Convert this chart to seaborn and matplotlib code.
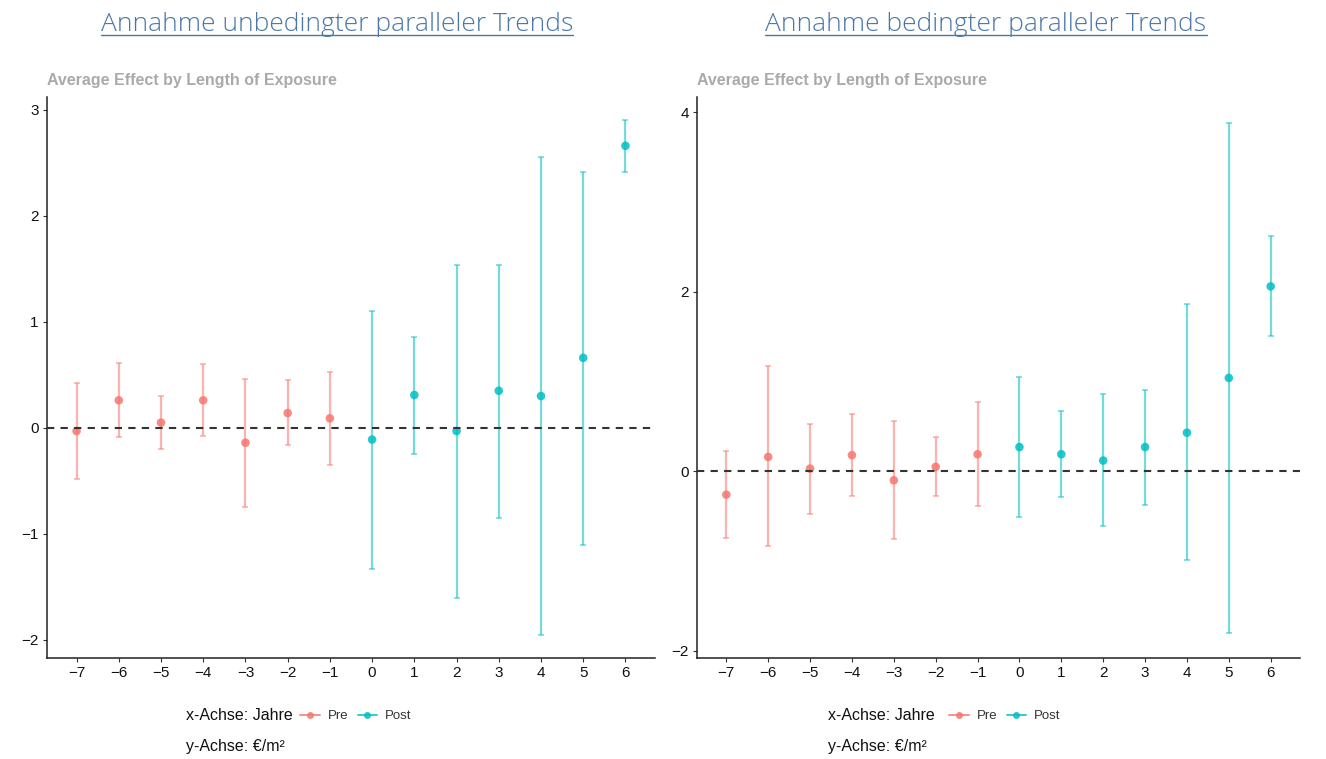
import matplotlib
matplotlib.use("Agg")
import matplotlib.pyplot as plt
from matplotlib.lines import Line2D
import seaborn as sns
import pandas as pd
import numpy as np

# Daten
years = [-7, -6, -5, -4, -3, -2, -1, 0, 1, 2, 3, 4, 5, 6]
phase = ["Pre"] * 7 + ["Post"] * 7

# unbedingte parallele Trends
unc_est = [-0.03, 0.26, 0.05, 0.26, -0.14, 0.14, 0.09, -0.11, 0.31, -0.03, 0.35, 0.30, 0.66, 2.66]
unc_lo = [-0.48, -0.09, -0.20, -0.08, -0.75, -0.16, -0.35, -1.33, -0.25, -1.60, -0.85, -1.95, -1.10, 2.41]
unc_hi = [0.42, 0.61, 0.30, 0.60, 0.46, 0.45, 0.53, 1.10, 0.86, 1.54, 1.54, 2.55, 2.41, 2.90]

# bedingte parallele Trends
con_est = [-0.26, 0.16, 0.03, 0.18, -0.10, 0.05, 0.19, 0.27, 0.19, 0.12, 0.27, 0.43, 1.04, 2.06]
con_lo = [-0.74, -0.83, -0.48, -0.28, -0.75, -0.28, -0.39, -0.51, -0.29, -0.61, -0.38, -0.99, -1.80, 1.51]
con_hi = [0.23, 1.17, 0.53, 0.64, 0.56, 0.38, 0.77, 1.05, 0.67, 0.86, 0.91, 1.86, 3.88, 2.62]

titles = ["Annahme unbedingter paralleler Trends", "Annahme bedingter paralleler Trends"]
subtitle = "Average Effect by Length of Exposure"
PALETTE = {"Pre": "#F8766D", "Post": "#00BFC4"}

sns.set_theme(style="ticks")
plt.rcParams['font.family'] = ['Liberation Sans', 'DejaVu Sans']

W, H = 1326, 759
fig = plt.figure(figsize=(W / 100, H / 100), dpi=100)


def px(x0, y0, x1, y1):
    # Pixelbox -> figure coords
    return [x0 / W, 1 - y1 / H, (x1 - x0) / W, (y1 - y0) / H]


def draw_panel(ax, est, lo, hi, ylim, yticks):
    df = pd.DataFrame({"year": years, "est": est, "lo": lo, "hi": hi, "phase": phase})
    for ph, sub in df.groupby("phase"):
        ax.errorbar(sub["year"], sub["est"],
                    yerr=[sub["est"] - sub["lo"], sub["hi"] - sub["est"]],
                    fmt="none", ecolor=PALETTE[ph], alpha=0.55,
                    elinewidth=1.6, capsize=2.2, capthick=1.2, zorder=2)
    sns.scatterplot(data=df, x="year", y="est", hue="phase", palette=PALETTE,
                    s=38, linewidth=0, alpha=0.85, legend=False, ax=ax, zorder=3)
    ax.axhline(0, color="#333333", lw=1.5, ls=(0, (3.5, 3)), zorder=4)
    ax.set_xlim(-7.7, 6.7)
    ax.set_ylim(*ylim)
    ax.set_xticks(years)
    ax.set_xticklabels([str(y).replace("-", "\u2212") for y in years])
    ax.set_yticks(yticks)
    ax.set_yticklabels([str(y).replace("-", "\u2212") for y in yticks])
    ax.set_xlabel("")
    ax.set_ylabel("")
    sns.despine(ax=ax)
    for s in ["left", "bottom"]:
        ax.spines[s].set_color("#222222")
        ax.spines[s].set_linewidth(1.1)
    ax.tick_params(axis="both", length=3, width=0.8, color="#333333",
                   labelsize=11, labelcolor="#111111", pad=3)


ax1 = fig.add_axes(px(47, 97, 655, 658))
draw_panel(ax1, unc_est, unc_lo, unc_hi, (-2.17, 3.12), [-2, -1, 0, 1, 2, 3])
ax2 = fig.add_axes(px(697, 97, 1300, 658))
draw_panel(ax2, con_est, con_lo, con_hi, (-2.08, 4.17), [-2, 0, 2, 4])

# Titel mit Unterstreichung
title_texts = []
for cx, t in zip([337, 986], titles):
    tt = fig.text(cx / W, 1 - 31 / H, t, ha="center", va="baseline",
                  fontsize=19, color="#4a77a8",
                  family=["Open Sans", "Liberation Sans", "DejaVu Sans"],
                  fontweight="light")
    title_texts.append(tt)

for ax in [ax1, ax2]:
    x0 = ax.get_position().x0
    fig.text(x0, 1 - 80 / H, subtitle, ha="left", va="center",
             fontsize=11.5, fontweight="bold", color="#aaaaaa")

# Achsenhinweise + Legende
handles = [Line2D([], [], color=PALETTE[p], marker="o", markersize=4, lw=1.4, alpha=0.8)
           for p in ["Pre", "Post"]]
for tx, lx in [(186, 300), (828, 949)]:
    fig.text(tx / W, 1 - 716 / H, "x-Achse: Jahre", ha="left", va="center",
             fontsize=11.5, color="#111111")
    fig.text(tx / W, 1 - 746 / H, "y-Achse: \u20ac/m\u00b2", ha="left", va="center",
             fontsize=11.5, color="#111111")
    fig.legend(handles, ["Pre", "Post"], loc="center left",
               bbox_to_anchor=(lx / W, 1 - 716 / H), ncol=2, frameon=False,
               fontsize=9.5, handlelength=1.5, handletextpad=0.6,
               columnspacing=0.7, borderpad=0, borderaxespad=0,
               labelcolor="#333333")

fig.canvas.draw()
r = fig.canvas.get_renderer()
for tt in title_texts:
    bb = tt.get_window_extent(r).transformed(fig.transFigure.inverted())
    yline = 1 - 35 / H
    fig.add_artist(Line2D([bb.x0, bb.x1], [yline, yline], color="#4a77a8", lw=1.0,
                          transform=fig.transFigure))

fig.savefig("out.png", dpi=100)
